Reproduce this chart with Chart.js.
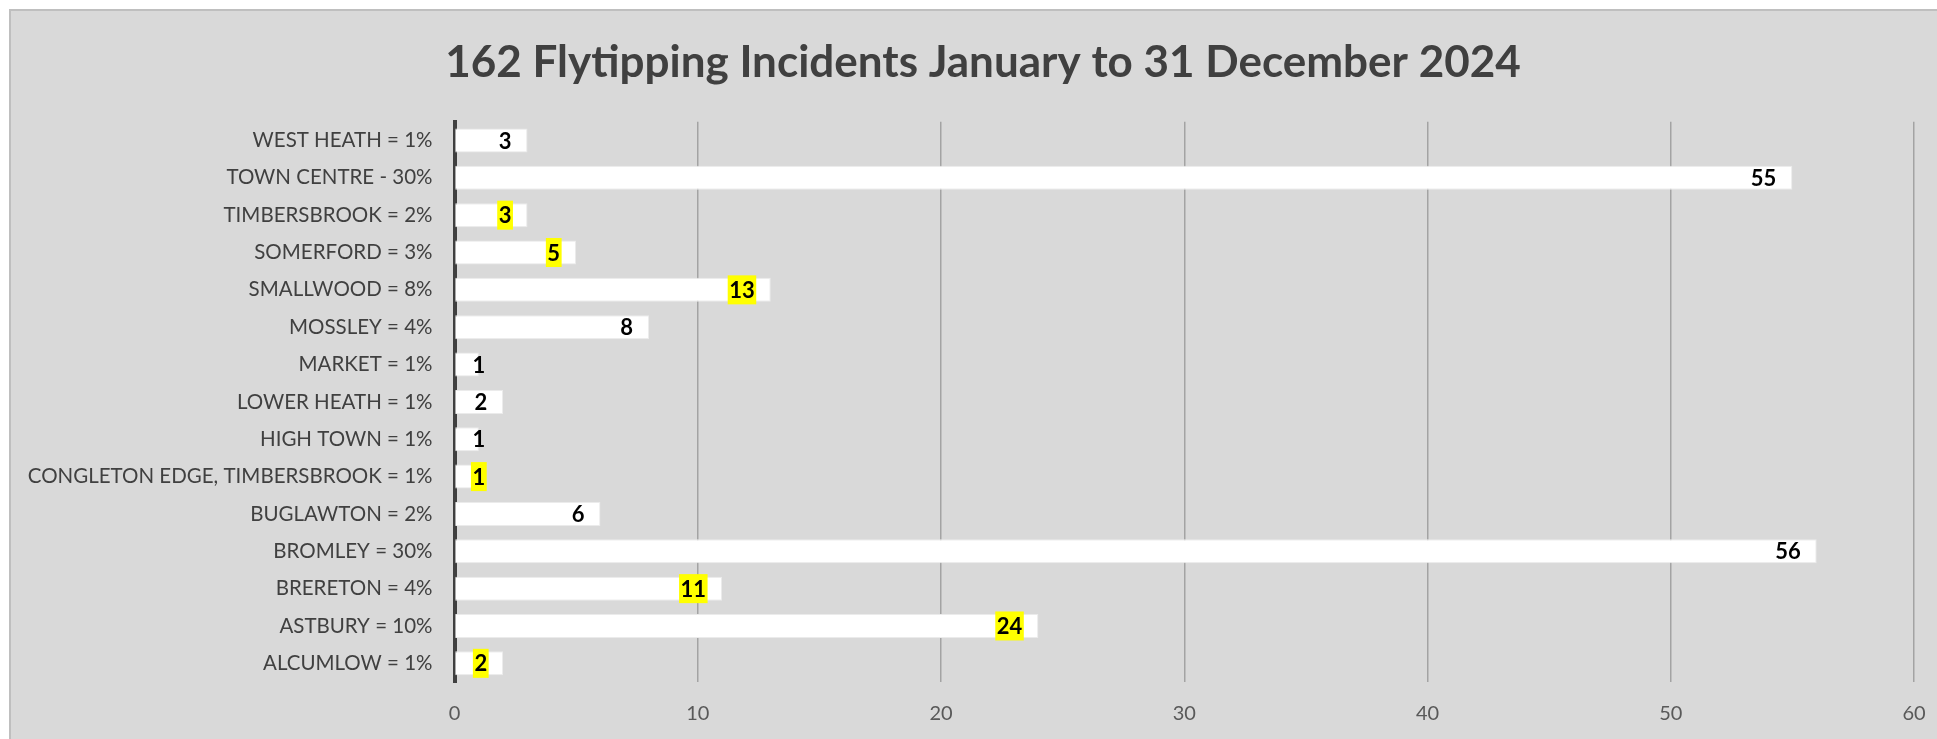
<!DOCTYPE html>
<html>
<head>
<meta charset="utf-8">
<script src="https://cdn.jsdelivr.net/npm/chart.js@4/dist/chart.umd.min.js"></script>
<style>
  html, body { margin: 0; padding: 0; background: #ffffff; width: 1937px; height: 739px; overflow: hidden; }
  #frame { position: absolute; left: 9px; top: 9px; width: 1928px; height: 730px; box-sizing: border-box;
           border-left: 2px solid #bfbfbf; border-top: 2px solid #bfbfbf; background: #d9d9d9; }
  canvas { display: block; }
</style>
</head>
<body>
<div id="frame"><canvas id="c" width="1926" height="728"></canvas></div>
<script>
// Data in Excel order (first category drawn at the bottom)
const categories = [
  "ALCUMLOW = 1%",
  "ASTBURY = 10%",
  "BRERETON = 4%",
  "BROMLEY = 30%",
  "BUGLAWTON = 2%",
  "CONGLETON EDGE, TIMBERSBROOK = 1%",
  "HIGH TOWN = 1%",
  "LOWER HEATH = 1%",
  "MARKET = 1%",
  "MOSSLEY = 4%",
  "SMALLWOOD = 8%",
  "SOMERFORD = 3%",
  "TIMBERSBROOK = 2%",
  "TOWN CENTRE - 30%",
  "WEST HEATH = 1%"
];
const incidents = [2, 24, 11, 56, 6, 1, 1, 2, 1, 8, 13, 5, 3, 55, 3];
const highlighted = [true, true, true, false, false, true, false, false, false, false, true, true, true, false, false];
const xTicks = [0, 10, 20, 30, 40, 50, 60];
const titleText = "162 Flytipping Incidents January to 31 December 2024";

Chart.defaults.font.family = "Lato, 'Open Sans', sans-serif";

const labelPlugin = {
  id: 'valueLabels',
  afterLayout(chart) {
    // centre the title slightly right of the canvas centre, as in the original
    if (chart.titleBlock) { chart.titleBlock.left = 41; }
  },
  afterDatasetsDraw(chart) {
    const ctx = chart.ctx;
    const meta = chart.getDatasetMeta(0);
    const xs = chart.scales.x;
    ctx.save();
    ctx.font = "bold 22px Lato, 'Open Sans', sans-serif";
    ctx.textAlign = 'center';
    ctx.textBaseline = 'middle';
    meta.data.forEach((bar, i) => {
      const txt = String(incidents[i]);
      const w = ctx.measureText(txt).width;
      const cx = Math.max(bar.x - 16 - w / 2, xs.getPixelForValue(1));
      const cy = bar.y;
      if (highlighted[i]) {
        ctx.fillStyle = '#ffff00';
        ctx.fillRect(cx - w / 2 - 1.5, cy - 14.5, w + 3, 29);
      }
      ctx.fillStyle = '#000000';
      ctx.fillText(txt, cx, cy + 1);
    });
    ctx.restore();
  }
};

new Chart(document.getElementById('c'), {
  type: 'bar',
  data: {
    labels: categories,
    datasets: [{
      data: incidents,
      backgroundColor: '#ffffff',
      borderColor: '#ebebeb',
      borderWidth: 1,
      barPercentage: 0.643,
      categoryPercentage: 1.0
    }]
  },
  options: {
    indexAxis: 'y',
    responsive: false,
    devicePixelRatio: 1,
    animation: false,
    layout: { padding: { left: 0, right: 23, top: 0, bottom: 13 } },
    plugins: {
      legend: { display: false },
      tooltip: { enabled: false },
      title: {
        display: true,
        text: titleText,
        color: '#404040',
        font: { size: 44, weight: 'bold', family: "Lato, 'Open Sans', sans-serif", lineHeight: 1.2 },
        padding: { top: 25, bottom: 33 }
      }
    },
    scales: {
      x: {
        type: 'linear',
        min: xTicks[0],
        max: xTicks[xTicks.length - 1],
        afterBuildTicks(scale) { scale.ticks = xTicks.map(v => ({ value: v })); },
        afterFit(scale) { scale.height = 44; scale.paddingLeft = 0; scale.paddingRight = 0; },
        grid: {
          color: (c) => (c.tick && c.tick.value === 0) ? 'rgba(0,0,0,0)' : '#a3a3a3',
          lineWidth: 1.5,
          drawTicks: false
        },
        border: { display: false },
        ticks: { color: '#595959', font: { size: 20 }, padding: 20 }
      },
      y: {
        type: 'category',
        reverse: true,
        z: 1,
        afterFit(scale) { scale.width = 443.5; },
        grid: { display: false, drawTicks: false },
        border: { display: true, color: '#404040', width: 4 },
        ticks: { color: '#404040', font: { size: 20.5 }, padding: 22, autoSkip: false }
      }
    }
  },
  plugins: [labelPlugin]
});
</script>
</body>
</html>
